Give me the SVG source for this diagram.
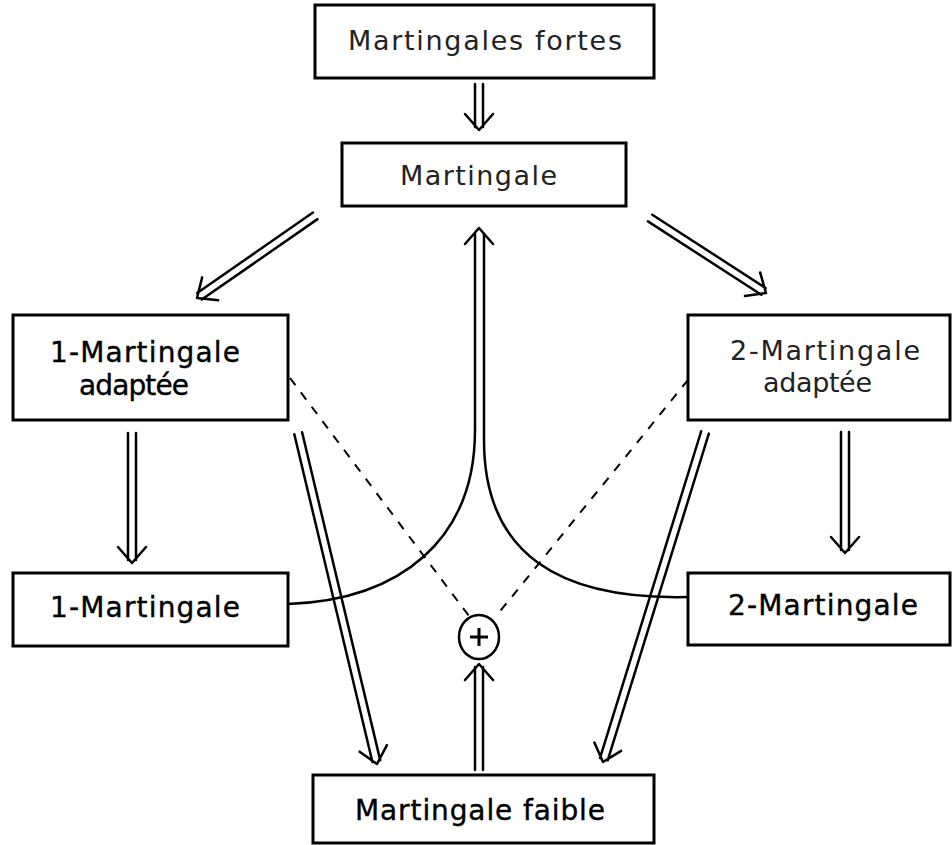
<svg xmlns="http://www.w3.org/2000/svg" width="952" height="845" viewBox="0 0 952 845">
<style>
.box{fill:#fff;stroke:#000;stroke-width:3}
.t{font-family:"DejaVu Sans","Liberation Sans",sans-serif;font-size:28px;fill:#000;stroke:#000;stroke-width:0.4}
.l{font-family:"DejaVu Sans","Liberation Sans",sans-serif;font-size:27px;fill:#222}
.a{fill:none;stroke:#000;stroke-width:2.5;stroke-linecap:round;stroke-linejoin:round}
.d{fill:none;stroke:#000;stroke-width:2;stroke-dasharray:9 9}
</style>
<rect width="952" height="845" fill="#fff"/>
<g id="connectors">
  <path class="a" d="M288,604 C400,600 475,540 475,430 L475,234"/>
  <path class="a" d="M688,597 C560,600 484,555 484,440 L484,234"/>
  <g transform="translate(479,228) rotate(-90)"><path class="a" d="M-16,-14 L0,0 L-16,14"/></g>
  <path class="d" d="M290,378 L472,620"/>
  <path class="d" d="M688,380 L497,615"/>
  <g transform="translate(479,130) rotate(90)"><path class="a" d="M-46,-4 H-3 M-46,4 H-3 M-16,-14 L0,0 L-16,14"/></g>
  <g transform="translate(197,298) rotate(145.2)"><path class="a" d="M-144,-4 H-3 M-144,4 H-3 M-16,-14 L0,0 L-16,14"/></g>
  <g transform="translate(766,293) rotate(32.9)"><path class="a" d="M-138,-4 H-3 M-138,4 H-3 M-16,-14 L0,0 L-16,14"/></g>
  <g transform="translate(132,563) rotate(90)"><path class="a" d="M-130,-4 H-3 M-130,4 H-3 M-16,-14 L0,0 L-16,14"/></g>
  <g transform="translate(845,553) rotate(90)"><path class="a" d="M-121,-4 H-3 M-121,4 H-3 M-16,-14 L0,0 L-16,14"/></g>
  <g transform="translate(377,764) rotate(76.6)"><path class="a" d="M-340,-4 H-3 M-340,4 H-3 M-16,-14 L0,0 L-16,14"/></g>
  <g transform="translate(603,762) rotate(107.2)"><path class="a" d="M-345,-4 H-3 M-345,4 H-3 M-16,-14 L0,0 L-16,14"/></g>
  <g transform="translate(479,664) rotate(-90)"><path class="a" d="M-106,-4 H-3 M-106,4 H-3 M-16,-14 L0,0 L-16,14"/></g>
</g>
<g id="fortes">
  <rect class="box" x="315" y="5" width="339" height="73"/>
  <text class="l" x="348" y="50" textLength="274" lengthAdjust="spacing">Martingales fortes</text>
</g>
<g id="martingale">
  <rect class="box" x="342" y="143" width="284" height="63"/>
  <text class="l" x="400" y="185" textLength="157" lengthAdjust="spacing">Martingale</text>
</g>
<g id="m1a">
  <rect class="box" x="13" y="315" width="275" height="105"/>
  <text class="t" x="50" y="362" textLength="190" lengthAdjust="spacing">1-Martingale</text>
  <text class="t" x="79" y="395" font-size="26" textLength="110" lengthAdjust="spacing">adaptée</text>
</g>
<g id="m2a">
  <rect class="box" x="688" y="315" width="262" height="105"/>
  <text class="l" x="730" y="360" textLength="190" lengthAdjust="spacing">2-Martingale</text>
  <text class="l" x="763" y="392" textLength="109" lengthAdjust="spacing">adaptée</text>
</g>
<g id="m1">
  <rect class="box" x="13" y="573" width="275" height="73"/>
  <text class="t" x="50" y="617" textLength="190" lengthAdjust="spacing">1-Martingale</text>
</g>
<g id="m2">
  <rect class="box" x="688" y="573" width="262" height="72"/>
  <text class="t" x="728" y="615" textLength="190" lengthAdjust="spacing">2-Martingale</text>
</g>
<g id="plus">
  <ellipse cx="479" cy="637" rx="20" ry="22" fill="#fff" stroke="#000" stroke-width="2.5"/>
  <path d="M479,628 V646 M470,637 H488" stroke="#000" stroke-width="3"/>
</g>
<g id="faible">
  <rect class="box" x="313" y="775" width="341" height="68"/>
  <text class="t" x="355" y="820" textLength="250" lengthAdjust="spacing">Martingale faible</text>
</g>
</svg>
